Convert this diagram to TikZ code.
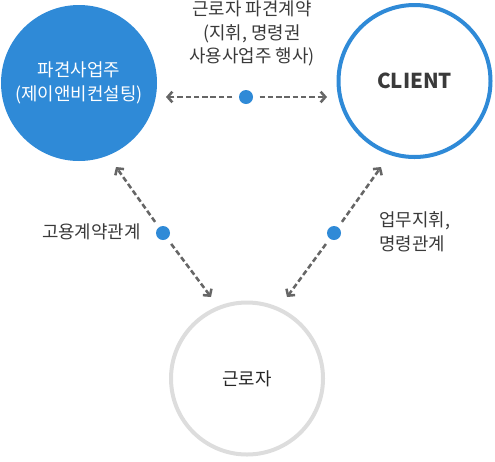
\documentclass[tikz,border=0pt]{standalone}
\usepackage{fontspec}
\setmainfont{Noto Sans CJK KR}
\usetikzlibrary{arrows.meta}

\definecolor{jnbblue}{HTML}{2F8AD7}
\definecolor{arrowgray}{HTML}{666666}
\definecolor{ringgray}{HTML}{DDDDDD}
\definecolor{labelgray}{HTML}{3A3A3A}

\tikzset{
  party/.style={circle, minimum size=114pt, inner sep=0pt, align=center},
  hub/.style={circle, fill=jnbblue, minimum size=10.5pt, inner sep=0pt, outer sep=5pt},
  link/.style={arrowgray, line width=1.9pt, dash pattern=on 4pt off 2.2pt,
    -{Straight Barb[length=3.5pt, width=8pt]}},
  note/.style={text=labelgray, inner sep=0pt}
}

\begin{document}
\begin{tikzpicture}[x=0.75pt, y=-0.75pt, font=\fontsize{13.4}{18}\selectfont]
		\useasboundingbox (0,0) rectangle (495,461);
		
		% Parties
		\node[party, fill=jnbblue, text=white, minimum size=117pt] (agency) at (79,83) {파견사업주\\(제이앤비컨설팅)};
		\node[party, draw=jnbblue, line width=3pt] (client) at (414.5,81) {\fontsize{15.4}{20}\selectfont\bfseries\color{labelgray}CLIENT};
		\node[party, draw=ringgray, line width=3pt] (worker) at (247,378.5) {\color{black!85}근로자};
		
		% Hubs
		\node[hub] (hubTop) at (246,97) {};
		\node[hub] (hubLeft) at (163,233) {};
		\node[hub] (hubRight) at (334,233) {};
		
		% Arrow ends
		\coordinate (tipAgency) at (166,97);
		\coordinate (tipClient) at (327,97);
		\coordinate (tipAgencyDown) at (116,167);
		\coordinate (tipWorkerLeft) at (211,297);
		\coordinate (tipClientDown) at (381,167);
		\coordinate (tipWorkerRight) at (287,297);
		
		% Dashed arrows
		\draw[link] (hubTop) -- (tipAgency);
		\draw[link] (hubTop) -- (tipClient);
		\draw[link] (hubLeft) -- (tipAgencyDown);
		\draw[link] (hubLeft) -- (tipWorkerLeft);
		\draw[link] (hubRight) -- (tipClientDown);
		\draw[link] (hubRight) -- (tipWorkerRight);
		
		% Labels
		\node[note, align=center, font=\fontsize{13.4}{17.6}\selectfont] (contractLbl) at (252,33.5) {근로자 파견계약\\(지휘, 명령권\\사용사업주 행사)};
		\node[note, anchor=east] (hireLbl) at (141,232) {고용계약관계};
		\node[note, anchor=west, align=left] (orderLbl) at (379,231.5) {업무지휘,\\명령관계};
	\end{tikzpicture}
\end{document}
